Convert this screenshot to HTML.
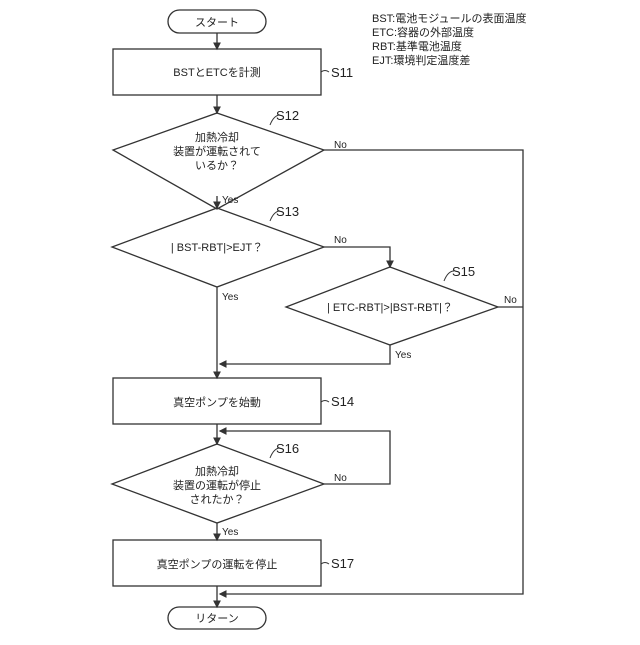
<!DOCTYPE html>
<html><head><meta charset="utf-8"><style>
body{margin:0;background:#fff}
svg text{font-family:"Liberation Sans","Noto Sans CJK JP",sans-serif;fill:#222}
</style></head><body>
<svg width="640" height="640" viewBox="0 0 640 640" xmlns="http://www.w3.org/2000/svg">
<defs><marker id="a" markerWidth="6" markerHeight="6" refX="5" refY="3" orient="auto"><path d="M0,0 L6,3 L0,6 z" fill="#333"/></marker></defs>
<g stroke="#333" stroke-width="1.3" fill="none">
<rect x="168" y="10" width="98" height="23" rx="11.5"/>
<rect x="113" y="49" width="208" height="46"/>
<polygon points="217,113 324,150 217,209 113,150"/>
<polygon points="217,208 324,247 217,287 112,247"/>
<polygon points="390,267 498,307 390,345 286,307"/>
<rect x="113" y="378" width="208" height="46"/>
<polygon points="217,444 324,484 217,523 112,484"/>
<rect x="113" y="540" width="208" height="46"/>
<rect x="168" y="607" width="98" height="22" rx="11"/>
<line x1="217" y1="33" x2="217" y2="49" marker-end="url(#a)"/>
<line x1="217" y1="95" x2="217" y2="113" marker-end="url(#a)"/>
<line x1="217" y1="209" x2="217" y2="208"/>
<line x1="217" y1="196" x2="217" y2="208" marker-end="url(#a)"/>
<line x1="217" y1="287" x2="217" y2="378" marker-end="url(#a)"/>
<polyline points="324,247 390,247 390,267" marker-end="url(#a)"/>
<polyline points="390,345 390,364 220,364" marker-end="url(#a)"/>
<polyline points="324,150 523,150 523,594 220,594" marker-end="url(#a)"/>
<line x1="498" y1="307" x2="523" y2="307"/>
<line x1="217" y1="424" x2="217" y2="444" marker-end="url(#a)"/>
<polyline points="324,484 390,484 390,431 220,431" marker-end="url(#a)"/>
<line x1="217" y1="523" x2="217" y2="540" marker-end="url(#a)"/>
<line x1="217" y1="586" x2="217" y2="607" marker-end="url(#a)"/>
<path d="M321,72 q4,-3 8,0 M270,125 q4,-10 10,-10 M270,221 q4,-10 10,-10 M444,281 q4,-10 10,-10 M321,402 q4,-3 8,0 M270,458 q4,-10 10,-10 M321,564 q4,-3 8,0" stroke-width="1"/>
</g>
<g font-size="11">
<text x="217" y="26" text-anchor="middle">スタート</text>
<text x="217" y="76" text-anchor="middle">BSTとETCを計測</text>
<text x="217" y="141" text-anchor="middle">加熱冷却</text>
<text x="217" y="155" text-anchor="middle">装置が運転されて</text>
<text x="217" y="169" text-anchor="middle">いるか？</text>
<text x="217" y="251" text-anchor="middle">| BST-RBT|&gt;EJT？</text>
<text x="390" y="311" text-anchor="middle">| ETC-RBT|&gt;|BST-RBT|？</text>
<text x="217" y="406" text-anchor="middle">真空ポンプを始動</text>
<text x="217" y="475" text-anchor="middle">加熱冷却</text>
<text x="217" y="489" text-anchor="middle">装置の運転が停止</text>
<text x="217" y="503" text-anchor="middle">されたか？</text>
<text x="217" y="568" text-anchor="middle">真空ポンプの運転を停止</text>
<text x="217" y="622" text-anchor="middle">リターン</text>
<text x="372" y="22">BST:電池モジュールの表面温度</text>
<text x="372" y="36">ETC:容器の外部温度</text>
<text x="372" y="50">RBT:基準電池温度</text>
<text x="372" y="64">EJT:環境判定温度差</text>
</g>
<g font-size="10">
<text x="334" y="148">No</text><text x="222" y="203">Yes</text>
<text x="334" y="243">No</text><text x="222" y="300">Yes</text>
<text x="504" y="303">No</text><text x="395" y="358">Yes</text>
<text x="334" y="481">No</text><text x="222" y="535">Yes</text>
</g>
<g font-size="13">
<text x="331" y="77">S11</text><text x="276" y="120">S12</text><text x="276" y="216">S13</text>
<text x="452" y="276">S15</text><text x="331" y="406">S14</text><text x="276" y="453">S16</text><text x="331" y="568">S17</text>
</g>
</svg>
</body></html>
